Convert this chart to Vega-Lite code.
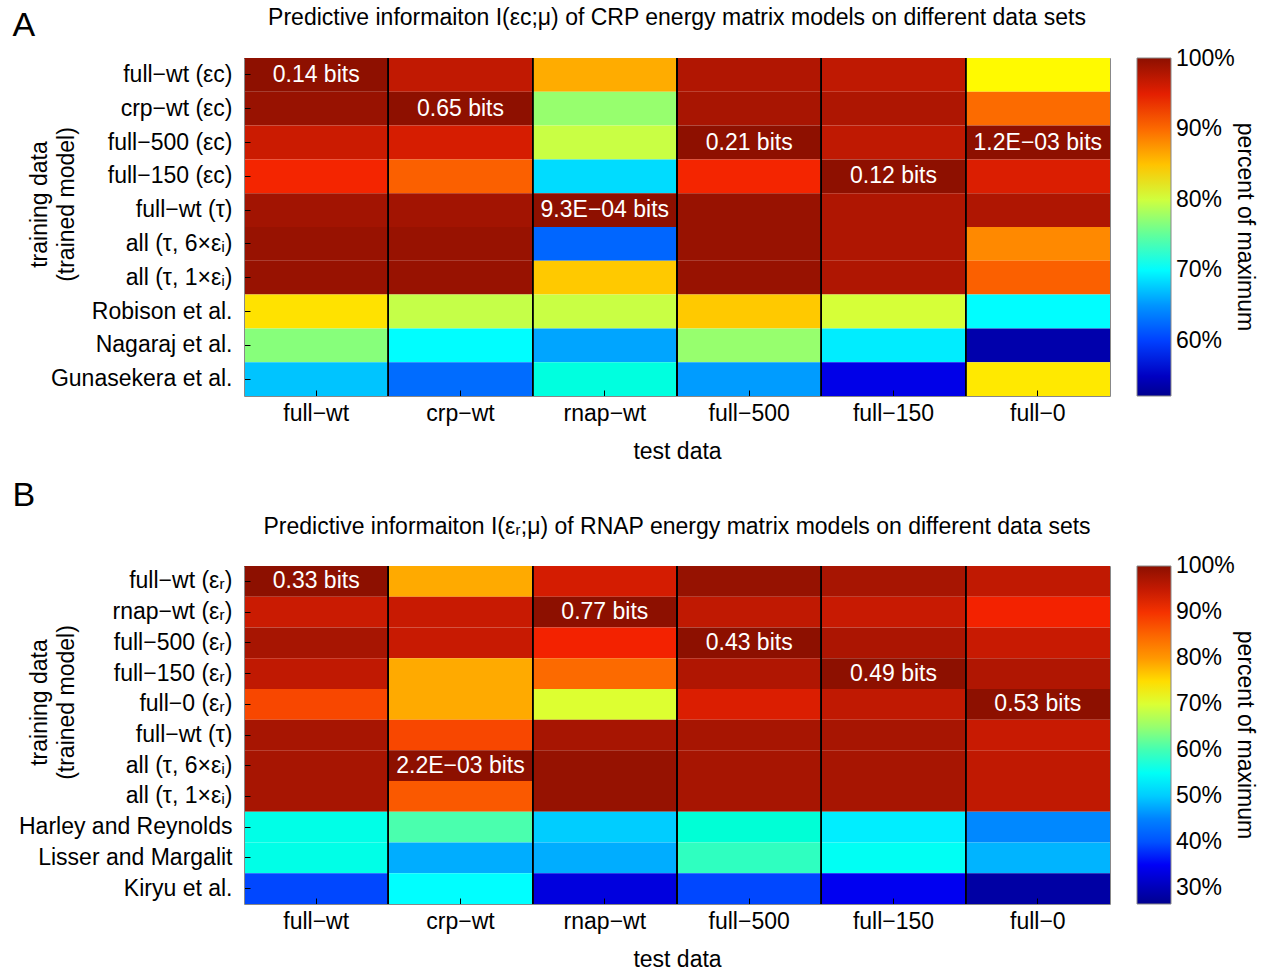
{
  "$schema": "https://vega.github.io/schema/vega-lite/v6.json",
  "padding": {"left": 12, "top": 7, "right": 5, "bottom": 2},
  "spacing": 15,
  "config": {
    "font": "Liberation Sans",
    "view": {"stroke": null},
    "axis": {"labelFont": "Liberation Sans", "labelFontSize": 23, "labelColor": "black", "labelLimit": 400, "titleFont": "Liberation Sans", "titleFontSize": 23, "titleFontWeight": "normal", "titleColor": "black", "tickColor": "black", "domainColor": "#888888", "grid": false},
    "legend": {"labelFont": "Liberation Sans", "labelFontSize": 23, "labelColor": "black", "titleFont": "Liberation Sans", "titleFontSize": 23, "titleFontWeight": "normal", "titleColor": "black", "titleLimit": 600},
    "title": {"font": "Liberation Sans", "fontSize": 23, "fontWeight": "normal", "color": "black", "limit": 1200}
  },
  "datasets": {
    "crp": [
      {"train": "full−wt (εc)", "test": "full−wt", "pct": 100, "label": "0.14 bits"},
      {"train": "full−wt (εc)", "test": "crp−wt", "pct": 97.0, "label": ""},
      {"train": "full−wt (εc)", "test": "rnap−wt", "pct": 86.1, "label": ""},
      {"train": "full−wt (εc)", "test": "full−500", "pct": 97.9, "label": ""},
      {"train": "full−wt (εc)", "test": "full−150", "pct": 97.1, "label": ""},
      {"train": "full−wt (εc)", "test": "full−0", "pct": 82.4, "label": ""},
      {"train": "crp−wt (εc)", "test": "full−wt", "pct": 99.4, "label": ""},
      {"train": "crp−wt (εc)", "test": "crp−wt", "pct": 100, "label": "0.65 bits"},
      {"train": "crp−wt (εc)", "test": "rnap−wt", "pct": 77.3, "label": ""},
      {"train": "crp−wt (εc)", "test": "full−500", "pct": 98.4, "label": ""},
      {"train": "crp−wt (εc)", "test": "full−150", "pct": 98.1, "label": ""},
      {"train": "crp−wt (εc)", "test": "full−0", "pct": 89.9, "label": ""},
      {"train": "full−500 (εc)", "test": "full−wt", "pct": 96.4, "label": ""},
      {"train": "full−500 (εc)", "test": "crp−wt", "pct": 95.8, "label": ""},
      {"train": "full−500 (εc)", "test": "rnap−wt", "pct": 79.7, "label": ""},
      {"train": "full−500 (εc)", "test": "full−500", "pct": 100, "label": "0.21 bits"},
      {"train": "full−500 (εc)", "test": "full−150", "pct": 97.1, "label": ""},
      {"train": "full−500 (εc)", "test": "full−0", "pct": 100, "label": "1.2E−03 bits"},
      {"train": "full−150 (εc)", "test": "full−wt", "pct": 94.0, "label": ""},
      {"train": "full−150 (εc)", "test": "crp−wt", "pct": 90.7, "label": ""},
      {"train": "full−150 (εc)", "test": "rnap−wt", "pct": 68.3, "label": ""},
      {"train": "full−150 (εc)", "test": "full−500", "pct": 94.0, "label": ""},
      {"train": "full−150 (εc)", "test": "full−150", "pct": 100, "label": "0.12 bits"},
      {"train": "full−150 (εc)", "test": "full−0", "pct": 95.5, "label": ""},
      {"train": "full−wt (τ)", "test": "full−wt", "pct": 98.8, "label": ""},
      {"train": "full−wt (τ)", "test": "crp−wt", "pct": 98.8, "label": ""},
      {"train": "full−wt (τ)", "test": "rnap−wt", "pct": 100, "label": "9.3E−04 bits"},
      {"train": "full−wt (τ)", "test": "full−500", "pct": 99.4, "label": ""},
      {"train": "full−wt (τ)", "test": "full−150", "pct": 98.0, "label": ""},
      {"train": "full−wt (τ)", "test": "full−0", "pct": 98.0, "label": ""},
      {"train": "all (τ, 6×εᵢ)", "test": "full−wt", "pct": 99.4, "label": ""},
      {"train": "all (τ, 6×εᵢ)", "test": "crp−wt", "pct": 99.4, "label": ""},
      {"train": "all (τ, 6×εᵢ)", "test": "rnap−wt", "pct": 62.3, "label": ""},
      {"train": "all (τ, 6×εᵢ)", "test": "full−500", "pct": 99.4, "label": ""},
      {"train": "all (τ, 6×εᵢ)", "test": "full−150", "pct": 98.0, "label": ""},
      {"train": "all (τ, 6×εᵢ)", "test": "full−0", "pct": 87.7, "label": ""},
      {"train": "all (τ, 1×εᵢ)", "test": "full−wt", "pct": 99.4, "label": ""},
      {"train": "all (τ, 1×εᵢ)", "test": "crp−wt", "pct": 99.4, "label": ""},
      {"train": "all (τ, 1×εᵢ)", "test": "rnap−wt", "pct": 84.7, "label": ""},
      {"train": "all (τ, 1×εᵢ)", "test": "full−500", "pct": 99.4, "label": ""},
      {"train": "all (τ, 1×εᵢ)", "test": "full−150", "pct": 98.0, "label": ""},
      {"train": "all (τ, 1×εᵢ)", "test": "full−0", "pct": 90.7, "label": ""},
      {"train": "Robison et al.", "test": "full−wt", "pct": 83.5, "label": ""},
      {"train": "Robison et al.", "test": "crp−wt", "pct": 79.5, "label": ""},
      {"train": "Robison et al.", "test": "rnap−wt", "pct": 79.7, "label": ""},
      {"train": "Robison et al.", "test": "full−500", "pct": 84.7, "label": ""},
      {"train": "Robison et al.", "test": "full−150", "pct": 80.3, "label": ""},
      {"train": "Robison et al.", "test": "full−0", "pct": 70.1, "label": ""},
      {"train": "Nagaraj et al.", "test": "full−wt", "pct": 76.5, "label": ""},
      {"train": "Nagaraj et al.", "test": "crp−wt", "pct": 70.1, "label": ""},
      {"train": "Nagaraj et al.", "test": "rnap−wt", "pct": 65.7, "label": ""},
      {"train": "Nagaraj et al.", "test": "full−500", "pct": 77.3, "label": ""},
      {"train": "Nagaraj et al.", "test": "full−150", "pct": 69.2, "label": ""},
      {"train": "Nagaraj et al.", "test": "full−0", "pct": 53.8, "label": ""},
      {"train": "Gunasekera et al.", "test": "full−wt", "pct": 67.1, "label": ""},
      {"train": "Gunasekera et al.", "test": "crp−wt", "pct": 62.7, "label": ""},
      {"train": "Gunasekera et al.", "test": "rnap−wt", "pct": 72.0, "label": ""},
      {"train": "Gunasekera et al.", "test": "full−500", "pct": 65.3, "label": ""},
      {"train": "Gunasekera et al.", "test": "full−150", "pct": 57.0, "label": ""},
      {"train": "Gunasekera et al.", "test": "full−0", "pct": 83.2, "label": ""}
    ],
    "rnap": [
      {"train": "full−wt (εᵣ)", "test": "full−wt", "pct": 100, "label": "0.33 bits"},
      {"train": "full−wt (εᵣ)", "test": "crp−wt", "pct": 78.7, "label": ""},
      {"train": "full−wt (εᵣ)", "test": "rnap−wt", "pct": 93.6, "label": ""},
      {"train": "full−wt (εᵣ)", "test": "full−500", "pct": 99.2, "label": ""},
      {"train": "full−wt (εᵣ)", "test": "full−150", "pct": 97.6, "label": ""},
      {"train": "full−wt (εᵣ)", "test": "full−0", "pct": 95.4, "label": ""},
      {"train": "rnap−wt (εᵣ)", "test": "full−wt", "pct": 94.5, "label": ""},
      {"train": "rnap−wt (εᵣ)", "test": "crp−wt", "pct": 94.7, "label": ""},
      {"train": "rnap−wt (εᵣ)", "test": "rnap−wt", "pct": 100, "label": "0.77 bits"},
      {"train": "rnap−wt (εᵣ)", "test": "full−500", "pct": 95.4, "label": ""},
      {"train": "rnap−wt (εᵣ)", "test": "full−150", "pct": 94.7, "label": ""},
      {"train": "rnap−wt (εᵣ)", "test": "full−0", "pct": 91.0, "label": ""},
      {"train": "full−500 (εᵣ)", "test": "full−wt", "pct": 97.6, "label": ""},
      {"train": "full−500 (εᵣ)", "test": "crp−wt", "pct": 94.7, "label": ""},
      {"train": "full−500 (εᵣ)", "test": "rnap−wt", "pct": 91.0, "label": ""},
      {"train": "full−500 (εᵣ)", "test": "full−500", "pct": 100, "label": "0.43 bits"},
      {"train": "full−500 (εᵣ)", "test": "full−150", "pct": 97.2, "label": ""},
      {"train": "full−500 (εᵣ)", "test": "full−0", "pct": 94.7, "label": ""},
      {"train": "full−150 (εᵣ)", "test": "full−wt", "pct": 95.4, "label": ""},
      {"train": "full−150 (εᵣ)", "test": "crp−wt", "pct": 78.7, "label": ""},
      {"train": "full−150 (εᵣ)", "test": "rnap−wt", "pct": 84.5, "label": ""},
      {"train": "full−150 (εᵣ)", "test": "full−500", "pct": 96.8, "label": ""},
      {"train": "full−150 (εᵣ)", "test": "full−150", "pct": 100, "label": "0.49 bits"},
      {"train": "full−150 (εᵣ)", "test": "full−0", "pct": 96.8, "label": ""},
      {"train": "full−0 (εᵣ)", "test": "full−wt", "pct": 88.3, "label": ""},
      {"train": "full−0 (εᵣ)", "test": "crp−wt", "pct": 78.7, "label": ""},
      {"train": "full−0 (εᵣ)", "test": "rnap−wt", "pct": 70.2, "label": ""},
      {"train": "full−0 (εᵣ)", "test": "full−500", "pct": 93.0, "label": ""},
      {"train": "full−0 (εᵣ)", "test": "full−150", "pct": 95.4, "label": ""},
      {"train": "full−0 (εᵣ)", "test": "full−0", "pct": 100, "label": "0.53 bits"},
      {"train": "full−wt (τ)", "test": "full−wt", "pct": 97.6, "label": ""},
      {"train": "full−wt (τ)", "test": "crp−wt", "pct": 88.3, "label": ""},
      {"train": "full−wt (τ)", "test": "rnap−wt", "pct": 97.6, "label": ""},
      {"train": "full−wt (τ)", "test": "full−500", "pct": 97.6, "label": ""},
      {"train": "full−wt (τ)", "test": "full−150", "pct": 97.6, "label": ""},
      {"train": "full−wt (τ)", "test": "full−0", "pct": 94.7, "label": ""},
      {"train": "all (τ, 6×εᵢ)", "test": "full−wt", "pct": 97.6, "label": ""},
      {"train": "all (τ, 6×εᵢ)", "test": "crp−wt", "pct": 100, "label": "2.2E−03 bits"},
      {"train": "all (τ, 6×εᵢ)", "test": "rnap−wt", "pct": 99.2, "label": ""},
      {"train": "all (τ, 6×εᵢ)", "test": "full−500", "pct": 97.6, "label": ""},
      {"train": "all (τ, 6×εᵢ)", "test": "full−150", "pct": 97.6, "label": ""},
      {"train": "all (τ, 6×εᵢ)", "test": "full−0", "pct": 95.4, "label": ""},
      {"train": "all (τ, 1×εᵢ)", "test": "full−wt", "pct": 97.6, "label": ""},
      {"train": "all (τ, 1×εᵢ)", "test": "crp−wt", "pct": 86.5, "label": ""},
      {"train": "all (τ, 1×εᵢ)", "test": "rnap−wt", "pct": 99.2, "label": ""},
      {"train": "all (τ, 1×εᵢ)", "test": "full−500", "pct": 97.6, "label": ""},
      {"train": "all (τ, 1×εᵢ)", "test": "full−150", "pct": 97.6, "label": ""},
      {"train": "all (τ, 1×εᵢ)", "test": "full−0", "pct": 95.4, "label": ""},
      {"train": "Harley and Reynolds", "test": "full−wt", "pct": 56.3, "label": ""},
      {"train": "Harley and Reynolds", "test": "crp−wt", "pct": 60.4, "label": ""},
      {"train": "Harley and Reynolds", "test": "rnap−wt", "pct": 50.1, "label": ""},
      {"train": "Harley and Reynolds", "test": "full−500", "pct": 57.6, "label": ""},
      {"train": "Harley and Reynolds", "test": "full−150", "pct": 52.7, "label": ""},
      {"train": "Harley and Reynolds", "test": "full−0", "pct": 45.4, "label": ""},
      {"train": "Lisser and Margalit", "test": "full−wt", "pct": 56.3, "label": ""},
      {"train": "Lisser and Margalit", "test": "crp−wt", "pct": 47.8, "label": ""},
      {"train": "Lisser and Margalit", "test": "rnap−wt", "pct": 47.8, "label": ""},
      {"train": "Lisser and Margalit", "test": "full−500", "pct": 59.2, "label": ""},
      {"train": "Lisser and Margalit", "test": "full−150", "pct": 55.2, "label": ""},
      {"train": "Lisser and Margalit", "test": "full−0", "pct": 48.3, "label": ""},
      {"train": "Kiryu et al.", "test": "full−wt", "pct": 39.0, "label": ""},
      {"train": "Kiryu et al.", "test": "crp−wt", "pct": 54.1, "label": ""},
      {"train": "Kiryu et al.", "test": "rnap−wt", "pct": 33.1, "label": ""},
      {"train": "Kiryu et al.", "test": "full−500", "pct": 39.0, "label": ""},
      {"train": "Kiryu et al.", "test": "full−150", "pct": 34.6, "label": ""},
      {"train": "Kiryu et al.", "test": "full−0", "pct": 28.3, "label": ""}
    ]
  },
  "resolve": {"scale": {"color": "independent"}, "legend": {"color": "independent"}},
  "vconcat": [
    {
      "width": 866,
      "height": 338,
      "data": {"name": "crp"},
      "title": {"text": "Predictive informaiton I(εc;μ) of CRP energy matrix models on different data sets", "anchor": "middle", "frame": "group", "offset": -22},
      "resolve": {"axis": {"x": "independent", "y": "independent"}},
      "layer": [
        {
          "mark": "rect",
          "encoding": {
            "x": {"field": "test", "type": "nominal", "sort": ["full−wt", "crp−wt", "rnap−wt", "full−500", "full−150", "full−0"], "scale": {"type": "band", "paddingInner": 0, "paddingOuter": 0},
              "axis": {"orient": "bottom", "labelAngle": 0, "tickSize": -6, "labelPadding": 12, "title": "test data", "titlePadding": 15}},
            "y": {"field": "train", "type": "nominal", "sort": ["full−wt (εc)", "crp−wt (εc)", "full−500 (εc)", "full−150 (εc)", "full−wt (τ)", "all (τ, 6×εᵢ)", "all (τ, 1×εᵢ)", "Robison et al.", "Nagaraj et al.", "Gunasekera et al."], "scale": {"type": "band", "paddingInner": 0, "paddingOuter": 0},
              "axis": {"orient": "left", "tickSize": -6, "labelPadding": 18, "title": ["training data", "(trained model)"], "titleAngle": -90, "titleX": -216, "titleY": 146, "titleBaseline": "top", "titleAlign": "center", "titleLineHeight": 27}},
            "color": {"field": "pct", "type": "quantitative",
              "scale": {"domain": [52.2, 100.1], "range": ["#00008f", "#0000ff", "#0080ff", "#00ffff", "#80ff80", "#ffff00", "#ff8000", "#f42200", "#8c1000"]},
              "legend": {"orient": "right", "direction": "vertical", "offset": 26, "gradientLength": 338, "gradientThickness": 34, "values": [60, 70, 80, 90, 100], "labelExpr": "datum.value + '%'", "labelOffset": 5, "title": "percent of maximum", "titleOrient": "right", "titleAnchor": "middle", "titlePadding": -2, "gradientStrokeColor": "#888888", "gradientStrokeWidth": 1}}
          }
        },
        {
          "mark": {"type": "rule", "color": "black", "strokeWidth": 1},
          "transform": [{"filter": "datum.test !== 'full−wt'"}],
          "encoding": {
            "x": {"field": "test", "type": "nominal", "sort": ["full−wt", "crp−wt", "rnap−wt", "full−500", "full−150", "full−0"], "bandPosition": 0, "scale": {"type": "band", "paddingInner": 0, "paddingOuter": 0}, "axis": null}
          }
        },
        {
          "mark": {"type": "text", "color": "white", "fontSize": 23, "font": "Liberation Sans", "align": "center", "baseline": "middle"},
          "encoding": {
            "x": {"field": "test", "type": "nominal", "sort": ["full−wt", "crp−wt", "rnap−wt", "full−500", "full−150", "full−0"], "scale": {"type": "band", "paddingInner": 0, "paddingOuter": 0},
              "axis": {"orient": "top", "labels": false, "tickSize": -6, "title": "A", "titleFontSize": 34, "titleX": -232, "titleY": -23, "titleAlign": "left", "titleBaseline": "alphabetic", "titleAngle": 0}},
            "y": {"field": "train", "type": "nominal", "sort": ["full−wt (εc)", "crp−wt (εc)", "full−500 (εc)", "full−150 (εc)", "full−wt (τ)", "all (τ, 6×εᵢ)", "all (τ, 1×εᵢ)", "Robison et al.", "Nagaraj et al.", "Gunasekera et al."], "scale": {"type": "band", "paddingInner": 0, "paddingOuter": 0},
              "axis": {"orient": "right", "labels": false, "tickSize": -6, "title": null}},
            "text": {"field": "label"}
          }
        }
      ]
    },
    {
      "width": 866,
      "height": 338,
      "data": {"name": "rnap"},
      "title": {"text": "Predictive informaiton I(εᵣ;μ) of RNAP energy matrix models on different data sets", "anchor": "middle", "frame": "group", "offset": -61},
      "resolve": {"axis": {"x": "independent", "y": "independent"}},
      "layer": [
        {
          "mark": "rect",
          "encoding": {
            "x": {"field": "test", "type": "nominal", "sort": ["full−wt", "crp−wt", "rnap−wt", "full−500", "full−150", "full−0"], "scale": {"type": "band", "paddingInner": 0, "paddingOuter": 0},
              "axis": {"orient": "bottom", "labelAngle": 0, "tickSize": -6, "labelPadding": 12, "title": "test data", "titlePadding": 15}},
            "y": {"field": "train", "type": "nominal", "sort": ["full−wt (εᵣ)", "rnap−wt (εᵣ)", "full−500 (εᵣ)", "full−150 (εᵣ)", "full−0 (εᵣ)", "full−wt (τ)", "all (τ, 6×εᵢ)", "all (τ, 1×εᵢ)", "Harley and Reynolds", "Lisser and Margalit", "Kiryu et al."], "scale": {"type": "band", "paddingInner": 0, "paddingOuter": 0},
              "axis": {"orient": "left", "tickSize": -6, "labelPadding": 18, "title": ["training data", "(trained model)"], "titleAngle": -90, "titleX": -216, "titleY": 136, "titleBaseline": "top", "titleAlign": "center", "titleLineHeight": 27}},
            "color": {"field": "pct", "type": "quantitative",
              "scale": {"domain": [26.5, 100.1], "range": ["#00008f", "#0000ff", "#0080ff", "#00ffff", "#80ff80", "#ffff00", "#ff8000", "#f42200", "#8c1000"]},
              "legend": {"orient": "right", "direction": "vertical", "offset": 26, "gradientLength": 338, "gradientThickness": 34, "values": [30, 40, 50, 60, 70, 80, 90, 100], "labelExpr": "datum.value + '%'", "labelOffset": 5, "title": "percent of maximum", "titleOrient": "right", "titleAnchor": "middle", "titlePadding": -2, "gradientStrokeColor": "#888888", "gradientStrokeWidth": 1}}
          }
        },
        {
          "mark": {"type": "rule", "color": "black", "strokeWidth": 1},
          "transform": [{"filter": "datum.test !== 'full−wt'"}],
          "encoding": {
            "x": {"field": "test", "type": "nominal", "sort": ["full−wt", "crp−wt", "rnap−wt", "full−500", "full−150", "full−0"], "bandPosition": 0, "scale": {"type": "band", "paddingInner": 0, "paddingOuter": 0}, "axis": null}
          }
        },
        {
          "mark": {"type": "text", "color": "white", "fontSize": 23, "font": "Liberation Sans", "align": "center", "baseline": "middle"},
          "encoding": {
            "x": {"field": "test", "type": "nominal", "sort": ["full−wt", "crp−wt", "rnap−wt", "full−500", "full−150", "full−0"], "scale": {"type": "band", "paddingInner": 0, "paddingOuter": 0},
              "axis": {"orient": "top", "labels": false, "tickSize": -6, "title": "B", "titleFontSize": 34, "titleX": -232, "titleY": -61, "titleAlign": "left", "titleBaseline": "alphabetic", "titleAngle": 0}},
            "y": {"field": "train", "type": "nominal", "sort": ["full−wt (εᵣ)", "rnap−wt (εᵣ)", "full−500 (εᵣ)", "full−150 (εᵣ)", "full−0 (εᵣ)", "full−wt (τ)", "all (τ, 6×εᵢ)", "all (τ, 1×εᵢ)", "Harley and Reynolds", "Lisser and Margalit", "Kiryu et al."], "scale": {"type": "band", "paddingInner": 0, "paddingOuter": 0},
              "axis": {"orient": "right", "labels": false, "tickSize": -6, "title": null}},
            "text": {"field": "label"}
          }
        }
      ]
    }
  ]
}
